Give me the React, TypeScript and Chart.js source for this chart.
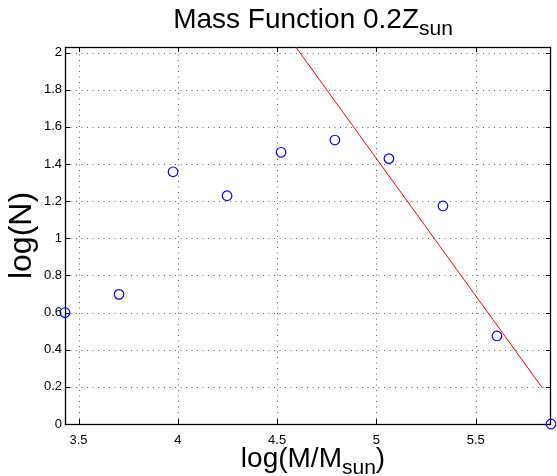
import React, { useEffect, useRef } from 'react';
import { Chart, registerables } from 'chart.js';

Chart.register(...registerables);

// ---- data ----
const logMass = [3.432, 3.704, 3.976, 4.248, 4.52, 4.791, 5.063, 5.335, 5.607, 5.879];
const logN = [0.6, 0.698, 1.358, 1.229, 1.463, 1.529, 1.429, 1.174, 0.474, 0];
const fitX = [4.55, 5.837];
const fitY = [2.095, 0.192];
const xTicks = [3.5, 4, 4.5, 5, 5.5];
const yTicks = [0, 0.2, 0.4, 0.6, 0.8, 1, 1.2, 1.4, 1.6, 1.8, 2];
const xLimits = [3.432, 5.879];
const yLimits = [0, 2.03];

const FONT = '"Liberation Sans", Arial, Helvetica, sans-serif';

type Part = { text: string; size: number; dy: number };

function drawParts(ctx: CanvasRenderingContext2D, parts: Part[], cx: number, baseline: number) {
  let total = 0;
  const widths = parts.map((p) => {
    ctx.font = `${p.size}px ${FONT}`;
    const w = ctx.measureText(p.text).width;
    total += w;
    return w;
  });
  let x = cx - total / 2;
  ctx.textAlign = 'left';
  ctx.textBaseline = 'alphabetic';
  ctx.fillStyle = '#000';
  parts.forEach((p, i) => {
    ctx.font = `${p.size}px ${FONT}`;
    ctx.fillText(p.text, x, baseline + p.dy);
    x += widths[i];
  });
}

const matlabFrame = {
  id: 'matlabFrame',
  beforeDatasetsDraw(chart: any) {
    const { ctx, chartArea } = chart;
    const { left, right, top, bottom } = chartArea;
    const xs = chart.scales.x;
    const ys = chart.scales.y;
    ctx.save();
    // dotted grid
    ctx.strokeStyle = 'rgba(0,0,0,0.6)';
    ctx.lineWidth = 1;
    ctx.setLineDash([1, 4.5]);
    xTicks.forEach((v) => {
      const px = Math.round(xs.getPixelForValue(v)) + 0.5;
      ctx.beginPath();
      ctx.moveTo(px, bottom);
      ctx.lineTo(px, top);
      ctx.stroke();
    });
    yTicks.forEach((v) => {
      const py = Math.round(ys.getPixelForValue(v)) + 0.5;
      ctx.beginPath();
      ctx.moveTo(left, py);
      ctx.lineTo(right, py);
      ctx.stroke();
    });
    ctx.setLineDash([]);
    // inward ticks
    ctx.strokeStyle = '#000';
    const tl = 5;
    xTicks.forEach((v) => {
      const px = Math.round(xs.getPixelForValue(v)) + 0.5;
      ctx.beginPath();
      ctx.moveTo(px, bottom);
      ctx.lineTo(px, bottom - tl);
      ctx.moveTo(px, top);
      ctx.lineTo(px, top + tl);
      ctx.stroke();
    });
    yTicks.forEach((v) => {
      const py = Math.round(ys.getPixelForValue(v)) + 0.5;
      ctx.beginPath();
      ctx.moveTo(left, py);
      ctx.lineTo(left + tl, py);
      ctx.moveTo(right, py);
      ctx.lineTo(right - tl, py);
      ctx.stroke();
    });
    // box
    ctx.lineWidth = 1.3;
    ctx.strokeRect(Math.round(left) + 0.5, Math.round(top) + 0.5, Math.round(right) - Math.round(left) - 1, Math.round(bottom) - Math.round(top));
    ctx.restore();
  },
  afterDraw(chart: any) {
    const { ctx, chartArea } = chart;
    const cx = (chartArea.left + chartArea.right) / 2 + 5;
    ctx.save();
    drawParts(ctx, [
      { text: 'Mass Function 0.2Z', size: 28, dy: 0 },
      { text: 'sun', size: 21, dy: 7 },
    ], cx, 28);
    drawParts(ctx, [
      { text: 'log(M/M', size: 28, dy: 0 },
      { text: 'sun', size: 21, dy: 7 },
      { text: ')', size: 28, dy: 0 },
    ], cx, 467);
    ctx.translate(31, (chartArea.top + chartArea.bottom) / 2);
    ctx.rotate(-Math.PI / 2);
    drawParts(ctx, [{ text: 'log(N)', size: 32, dy: 0 }], 0, 0);
    ctx.restore();
  },
};

export default function App() {
  const ref = useRef<HTMLCanvasElement | null>(null);
  useEffect(() => {
    document.body.style.margin = '0';
    const canvas = ref.current;
    if (!canvas) return;
    const chart = new Chart(canvas, {
      type: 'scatter',
      data: {
        datasets: [
          {
            type: 'scatter',
            data: logMass.map((x, i) => ({ x, y: logN[i] })),
            borderColor: '#0000ff',
            backgroundColor: 'rgba(0,0,0,0)',
            borderWidth: 1.2,
            pointRadius: 4.8,
            pointHoverRadius: 4.8,
            clip: false,
            order: 1,
          } as any,
          {
            type: 'line',
            data: fitX.map((x, i) => ({ x, y: fitY[i] })),
            borderColor: '#ff0000',
            borderWidth: 1,
            pointRadius: 0,
            fill: false,
            tension: 0,
            order: 2,
          } as any,
        ],
      },
      options: {
        animation: false,
        responsive: false,
        events: [],
        layout: { padding: { top: 47, left: 0, right: 0, bottom: 0 } },
        plugins: {
          legend: { display: false },
          tooltip: { enabled: false },
          title: { display: false },
        },
        scales: {
          x: {
            type: 'linear',
            min: xLimits[0],
            max: xLimits[1],
            afterBuildTicks: (s: any) => {
              s.ticks = xTicks.map((v) => ({ value: v }));
            },
            afterFit: (s: any) => {
              s.height = 52;
            },
            grid: { display: false, drawTicks: false },
            border: { display: false },
            ticks: {
              autoSkip: false,
              maxRotation: 0,
              padding: 9,
              color: '#000',
              font: { family: FONT, size: 13 },
              callback: (v: any) => String(v),
            },
          },
          y: {
            type: 'linear',
            min: yLimits[0],
            max: yLimits[1],
            afterBuildTicks: (s: any) => {
              s.ticks = yTicks.map((v) => ({ value: v }));
            },
            afterFit: (s: any) => {
              s.width = 65;
            },
            grid: { display: false, drawTicks: false },
            border: { display: false },
            ticks: {
              autoSkip: false,
              padding: 3,
              color: '#000',
              font: { family: FONT, size: 13 },
              callback: (v: any) => String(v),
            },
          },
        },
      } as any,
      plugins: [matlabFrame],
    });
    return () => chart.destroy();
  }, []);
  return (
    <div style={{ width: 557, height: 476 }}>
      <canvas ref={ref} width={557} height={476} style={{ display: 'block' }} />
    </div>
  );
}
